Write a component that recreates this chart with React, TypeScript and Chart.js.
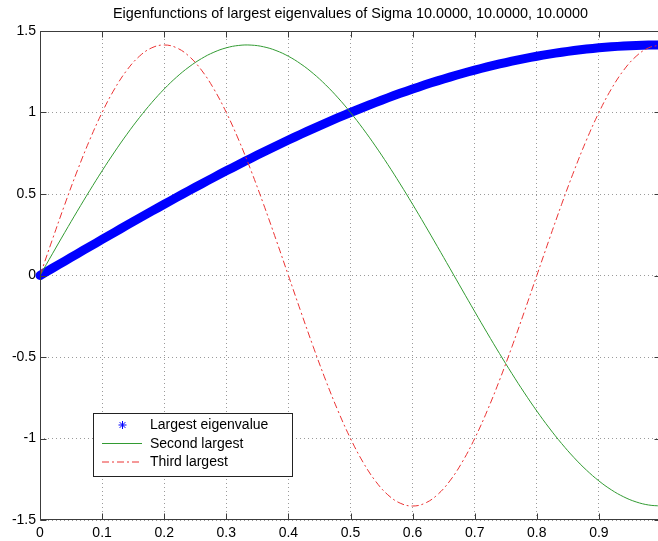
import React, { useEffect, useRef } from "react";
import { Chart, registerables } from "chart.js";

Chart.register(...registerables);

const TITLE = "Eigenfunctions of largest eigenvalues of Sigma 10.0000, 10.0000, 10.0000";

const xValues = [
  0, 0.02, 0.04, 0.06, 0.08, 0.1, 0.12, 0.14, 0.16, 0.18,
  0.2, 0.22, 0.24, 0.26, 0.28, 0.3, 0.32, 0.34, 0.36, 0.38,
  0.4, 0.42, 0.44, 0.46, 0.48, 0.5, 0.52, 0.54, 0.56, 0.58,
  0.6, 0.62, 0.64, 0.66, 0.68, 0.7, 0.72, 0.74, 0.76, 0.78,
  0.8, 0.82, 0.84, 0.86, 0.88, 0.9, 0.92, 0.94, 0.96, 0.98, 1,
];

const largestValues = [
  0, 0.0444, 0.0888, 0.1331, 0.1772, 0.2212, 0.265, 0.3085, 0.3517, 0.3945,
  0.437, 0.4791, 0.5206, 0.5617, 0.6021, 0.642, 0.6813, 0.7199, 0.7578, 0.7949,
  0.8313, 0.8668, 0.9015, 0.9352, 0.9681, 1.0, 1.0309, 1.0608, 1.0897, 1.1175,
  1.1441, 1.1697, 1.1941, 1.2173, 1.2393, 1.2601, 1.2796, 1.2979, 1.3149, 1.3306,
  1.345, 1.3581, 1.3698, 1.3802, 1.3892, 1.3968, 1.4031, 1.4079, 1.4114, 1.4135, 1.4142,
];

const secondValues = [
  0, 0.1331, 0.265, 0.3945, 0.5206, 0.642, 0.7578, 0.8668, 0.9681, 1.0608,
  1.1441, 1.2173, 1.2796, 1.3306, 1.3698, 1.3968, 1.4114, 1.4135, 1.4031, 1.3802,
  1.345, 1.2979, 1.2393, 1.1697, 1.0897, 1.0, 0.9015, 0.7949, 0.6813, 0.5617,
  0.437, 0.3085, 0.1772, 0.0444, -0.0888, -0.2212, -0.3517, -0.4791, -0.6021, -0.7199,
  -0.8313, -0.9352, -1.0309, -1.1175, -1.1941, -1.2601, -1.3149, -1.3581, -1.3892, -1.4079, -1.4142,
];

const thirdValues = [
  0, 0.2212, 0.437, 0.642, 0.8313, 1.0, 1.1441, 1.2601, 1.345, 1.3968,
  1.4142, 1.3968, 1.345, 1.2601, 1.1441, 1.0, 0.8313, 0.642, 0.437, 0.2212,
  0, -0.2212, -0.437, -0.642, -0.8313, -1.0, -1.1441, -1.2601, -1.345, -1.3968,
  -1.4142, -1.3968, -1.345, -1.2601, -1.1441, -1.0, -0.8313, -0.642, -0.437, -0.2212,
  0, 0.2212, 0.437, 0.642, 0.8313, 1.0, 1.1441, 1.2601, 1.345, 1.3968, 1.4142,
];

const xTickValues = [0, 0.1, 0.2, 0.3, 0.4, 0.5, 0.6, 0.7, 0.8, 0.9, 1];
const yTickValues = [-1.5, -1, -0.5, 0, 0.5, 1, 1.5];

const seriesLabels = ["Largest eigenvalue", "Second largest", "Third largest"];

const FONT = "'Liberation Sans', Arial, Helvetica, sans-serif";
const BLUE = "rgb(0,0,255)";
const GREEN = "rgb(50,155,50)";
const RED = "rgb(235,50,50)";

function toPoints(ys: number[]) {
  return xValues.map((x, i) => ({ x, y: ys[i] }));
}

function drawStar(ctx: CanvasRenderingContext2D, cx: number, cy: number, r: number) {
  ctx.beginPath();
  ctx.moveTo(cx, cy - r);
  ctx.lineTo(cx, cy + r);
  ctx.moveTo(cx - r, cy);
  ctx.lineTo(cx + r, cy);
  const d = r * 0.72;
  ctx.moveTo(cx - d, cy - d);
  ctx.lineTo(cx + d, cy + d);
  ctx.moveTo(cx - d, cy + d);
  ctx.lineTo(cx + d, cy - d);
  ctx.stroke();
}

const matlabPlugin = {
  id: "matlabLook",
  afterDatasetsDraw(chart: any) {
    const { ctx, chartArea: a, scales } = chart;
    const xs = scales.x;
    const ys = scales.y;
    ctx.save();

    const L = Math.round(a.left) + 0.5;
    const R = Math.round(a.right) - 0.5;
    const T = Math.round(a.top) + 0.5;
    const B = Math.round(a.bottom) - 0.5;

    ctx.strokeStyle = "#3c3c3c";
    ctx.lineWidth = 1;
    ctx.setLineDash([]);
    ctx.beginPath();
    ctx.rect(L, T, R - L, B - T);
    ctx.stroke();

    const tl = 6;
    ctx.beginPath();
    for (const v of xTickValues) {
      const px = Math.round(xs.getPixelForValue(v)) + 0.5;
      ctx.moveTo(px, T);
      ctx.lineTo(px, T + tl);
      ctx.moveTo(px, B);
      ctx.lineTo(px, B - tl);
    }
    for (const v of yTickValues) {
      const py = Math.round(ys.getPixelForValue(v)) + 0.5;
      ctx.moveTo(L, py);
      ctx.lineTo(L + tl, py);
      ctx.moveTo(R, py);
      ctx.lineTo(R - tl, py);
    }
    ctx.stroke();

    // legend
    const bx = 93.5, by = 413.5, bw = 199, bh = 63;
    ctx.fillStyle = "#ffffff";
    ctx.fillRect(bx, by, bw, bh);
    ctx.strokeStyle = "#222";
    ctx.strokeRect(bx, by, bw, bh);
    const rows = [425, 443.5, 462];
    ctx.font = `14px ${FONT}`;
    ctx.textAlign = "left";
    ctx.textBaseline = "middle";
    ctx.strokeStyle = BLUE;
    ctx.lineWidth = 1;
    drawStar(ctx, 122.5, rows[0], 4);
    ctx.strokeStyle = GREEN;
    ctx.beginPath();
    ctx.moveTo(102, rows[1]);
    ctx.lineTo(142, rows[1]);
    ctx.stroke();
    ctx.strokeStyle = RED;
    ctx.setLineDash([7, 3, 2, 3]);
    ctx.beginPath();
    ctx.moveTo(102, rows[2]);
    ctx.lineTo(142, rows[2]);
    ctx.stroke();
    ctx.setLineDash([]);
    ctx.fillStyle = "#000";
    seriesLabels.forEach((t, i) => ctx.fillText(t, 150, rows[i] + 0.5));

    // title
    ctx.font = `14.4px ${FONT}`;
    ctx.textAlign = "center";
    ctx.fillText(TITLE, (a.left + a.right) / 2, 14.5);
    ctx.restore();
  },
};

export default function App() {
  const ref = useRef<HTMLCanvasElement | null>(null);

  useEffect(() => {
    if (!ref.current) return;
    const chart = new Chart(ref.current, {
      type: "line",
      data: {
        datasets: [
          {
            label: seriesLabels[0],
            data: toPoints(largestValues),
            borderColor: BLUE,
            backgroundColor: BLUE,
            borderWidth: 9,
            borderCapStyle: "round",
            pointRadius: 0,
            tension: 0.3,
            fill: false,
            clip: false,
            order: 3,
          },
          {
            label: seriesLabels[1],
            data: toPoints(secondValues),
            borderColor: GREEN,
            borderWidth: 1,
            pointRadius: 0,
            tension: 0.4,
            fill: false,
            order: 2,
          },
          {
            label: seriesLabels[2],
            data: toPoints(thirdValues),
            borderColor: RED,
            borderWidth: 1,
            borderDash: [7, 3, 2, 3],
            pointRadius: 0,
            tension: 0.4,
            fill: false,
            order: 1,
          },
        ],
      } as any,
      options: {
        animation: false,
        responsive: false,
        devicePixelRatio: 1,
        layout: { padding: { top: 31, left: 0, right: 1, bottom: 0 }, autoPadding: false } as any,
        plugins: {
          legend: { display: false },
          title: { display: false },
          tooltip: { enabled: false },
        },
        scales: {
          x: {
            type: "linear",
            min: 0,
            max: 1,
            afterBuildTicks: (s: any) => {
              s.ticks = xTickValues.map((v) => ({ value: v }));
            },
            afterFit: (s: any) => {
              s.height = 21;
              s.paddingLeft = 0;
              s.paddingRight = 0;
            },
            ticks: {
              autoSkip: false,
              maxRotation: 0,
              padding: 5,
              color: "#000",
              font: { family: FONT, size: 14 },
              callback: (v: any) => String(v),
            },
            grid: { color: "#9a9a9a", lineWidth: 1, drawTicks: false },
            border: { display: false, dash: [1, 3] },
          },
          y: {
            type: "linear",
            min: -1.5,
            max: 1.5,
            afterBuildTicks: (s: any) => {
              s.ticks = yTickValues.map((v) => ({ value: v }));
            },
            afterFit: (s: any) => {
              s.width = 40;
              s.paddingTop = 0;
              s.paddingBottom = 0;
            },
            ticks: {
              autoSkip: false,
              padding: 4,
              color: "#000",
              font: { family: FONT, size: 14 },
              callback: (v: any) => String(v),
            },
            grid: { color: "#9a9a9a", lineWidth: 1, drawTicks: false },
            border: { display: false, dash: [1, 3] },
          },
        },
      } as any,
      plugins: [matlabPlugin],
    });
    return () => chart.destroy();
  }, []);

  return (
    <canvas
      ref={ref}
      width={662}
      height={541}
      style={{ position: "absolute", left: 0, top: 0, width: 662, height: 541 }}
    />
  );
}
